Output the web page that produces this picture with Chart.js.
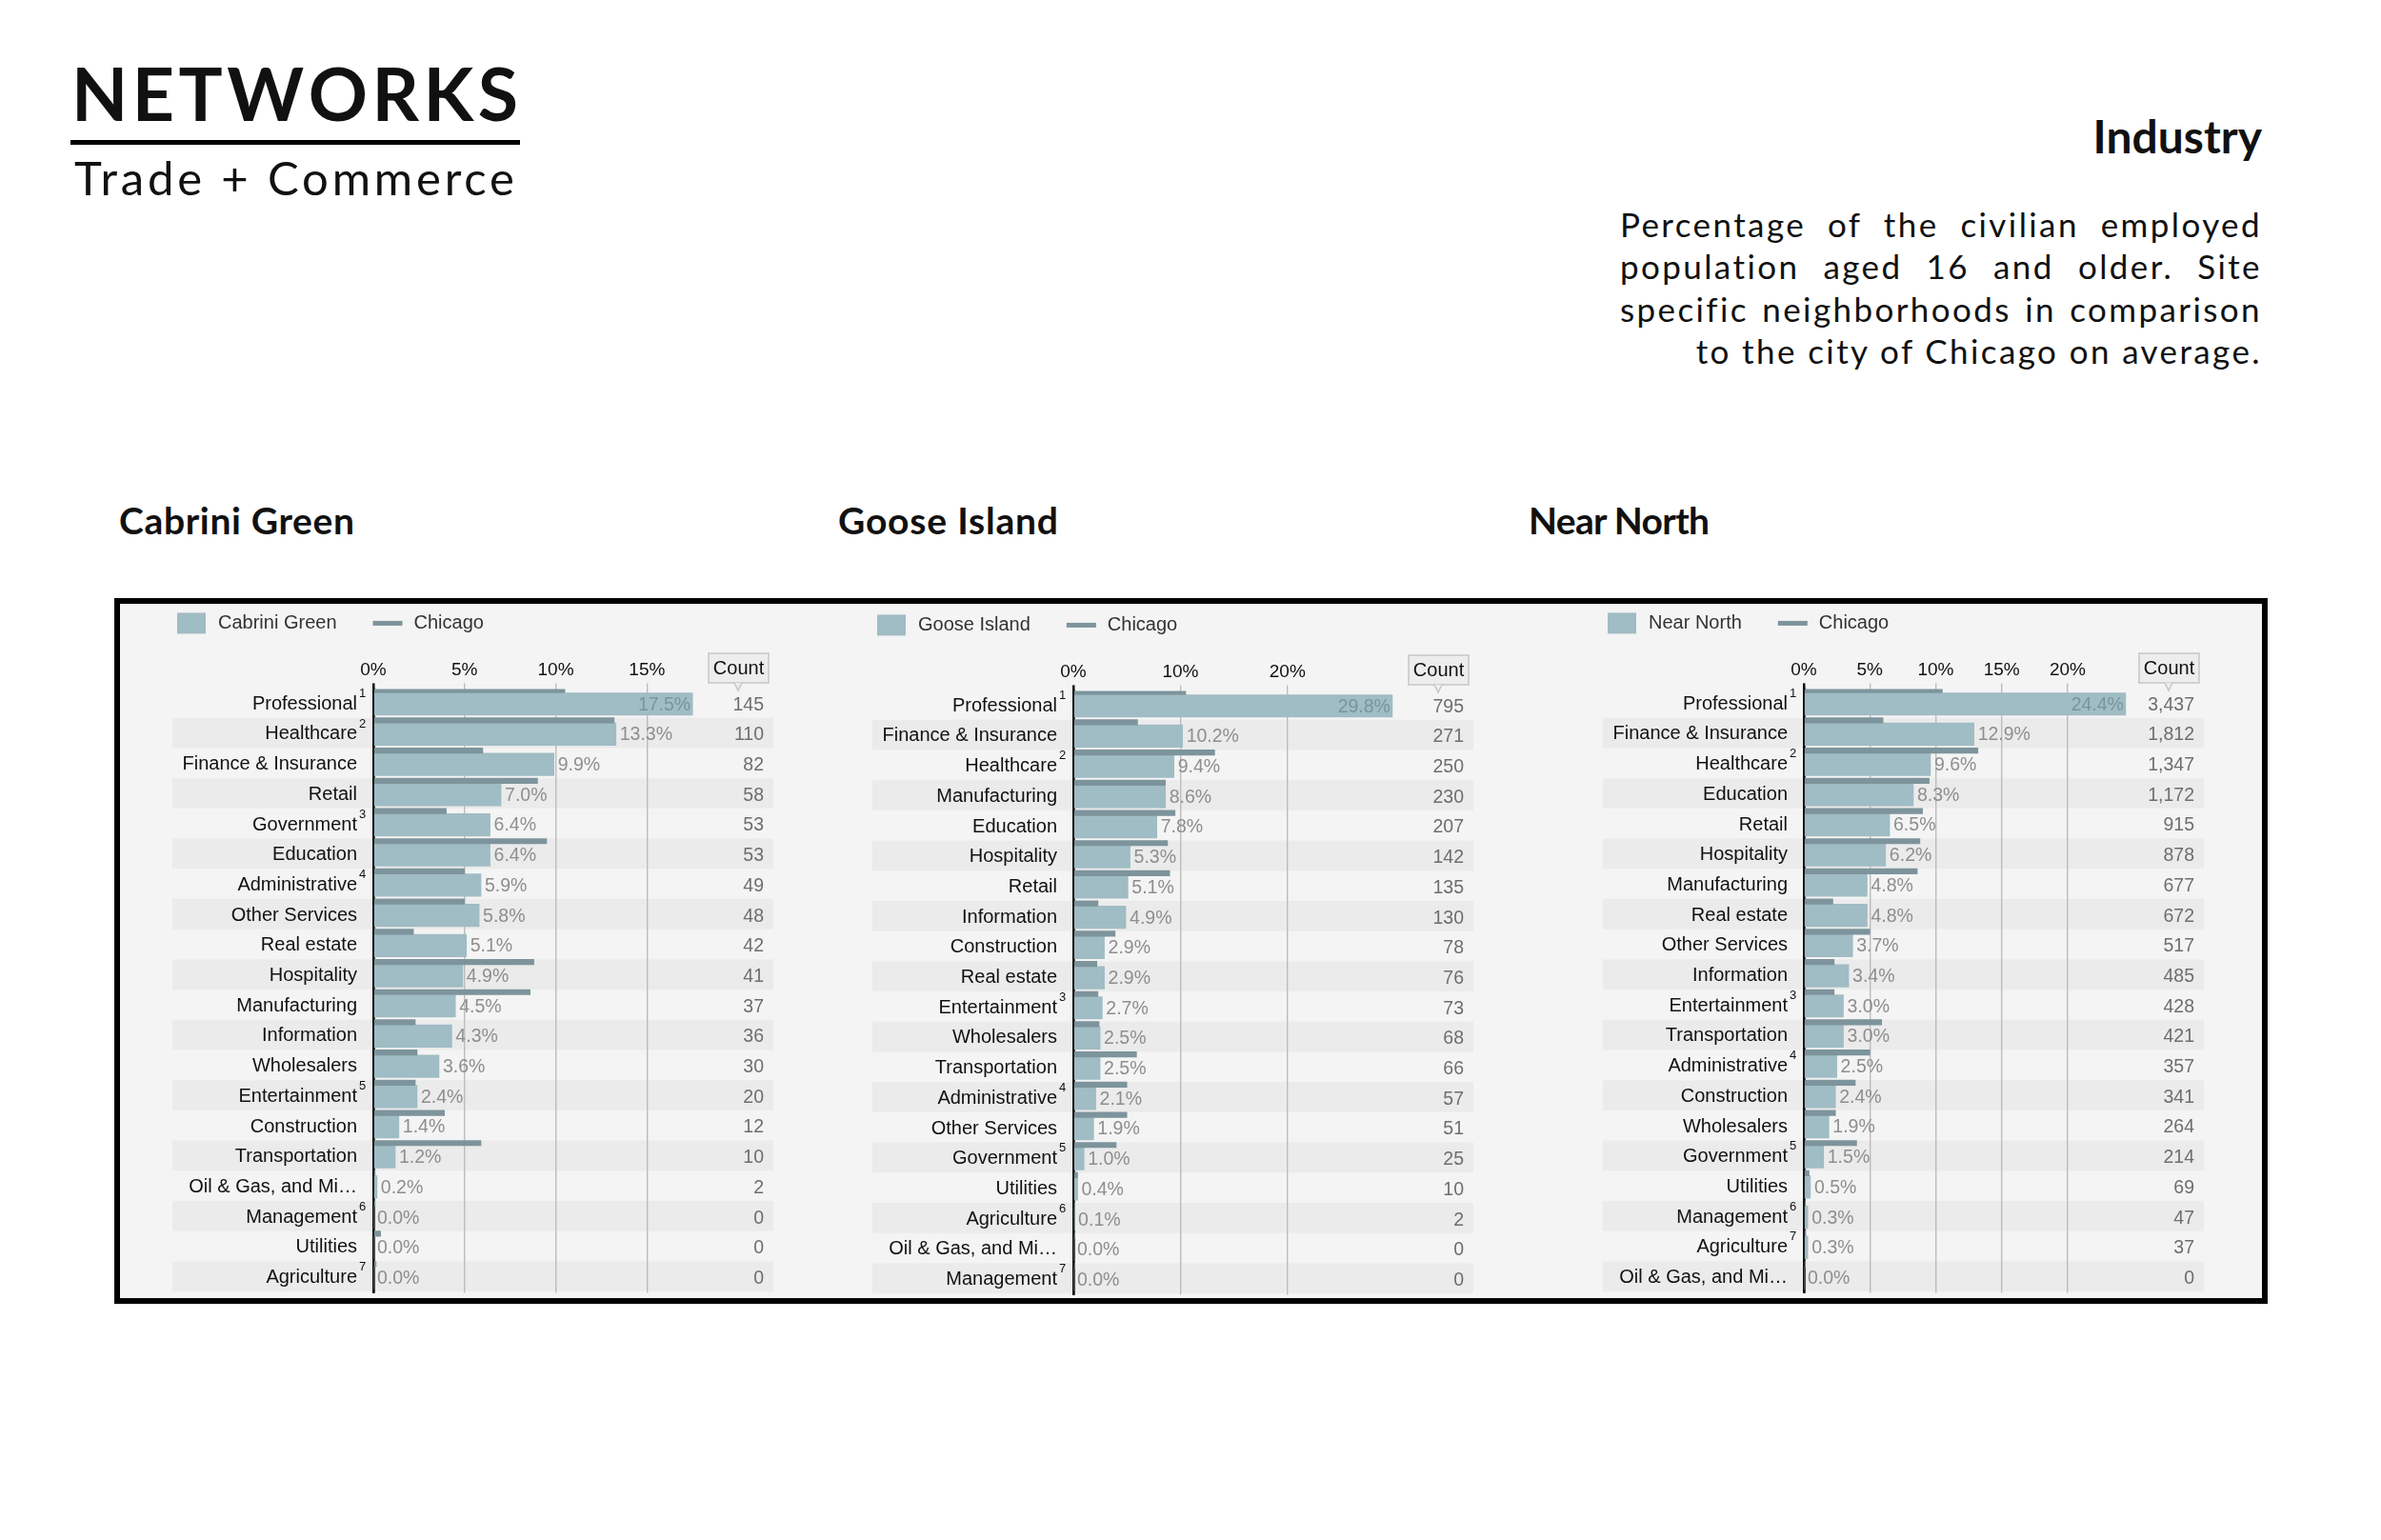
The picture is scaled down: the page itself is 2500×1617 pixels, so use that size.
<!DOCTYPE html>
<html>
<head>
<meta charset="utf-8">
<script src="https://cdn.jsdelivr.net/npm/chart.js@4.4.0/dist/chart.umd.min.js"></script>
<style>
    html, body { margin: 0; padding: 0; background: #fff; }
    body { width: 2500px; height: 1617px; position: relative; overflow: hidden; font-family: Lato, "Open Sans", sans-serif; color: #111; }
    .abs { position: absolute; white-space: nowrap; line-height: 1; }
    #brand { left: 75px; top: 59px; width: 469px; display: flex; justify-content: space-between; font-size: 77px; font-weight: 700; }
    #rule { left: 74px; top: 147px; width: 472px; height: 4.5px; background: #000; }
    #sub { left: 78px; top: 162px; font-size: 49px; font-weight: 400; }
    #title { right: 125px; top: 119px; font-size: 48px; font-weight: 700; }
    #para { position: absolute; left: 1701px; top: 213px; width: 674px; font-size: 35px; line-height: 44.3px; }
    #para div { text-align: justify; text-align-last: justify; white-space: nowrap; }
    #para div.last { text-align: right; text-align-last: right; }
    .head { top: 527px; font-size: 39px; font-weight: 700; }
    #frame { position: absolute; left: 120px; top: 628px; width: 2261px; height: 741px; box-sizing: border-box; border: 6px solid #000; background: #f4f4f4; }
    canvas { position: absolute; }
</style>
</head>
<body>
<div id="brand" class="abs"><span>N</span><span>E</span><span>T</span><span>W</span><span>O</span><span>R</span><span>K</span><span>S</span></div>
<div id="rule" class="abs"></div>
<div id="sub" class="abs">Trade + Commerce</div>
<div id="title" class="abs">Industry</div>
<div id="para">
    <div>Percentage of the civilian employed</div>
    <div>population aged 16 and older. Site</div>
    <div id="fitline">specific neighborhoods in comparison</div>
    <div class="last">to the city of Chicago on average.</div>
</div>
<div class="abs head" id="h1" style="left:125px">Cabrini Green</div>
<div class="abs head" id="h2" style="left:880px">Goose Island</div>
<div class="abs head" id="h3" style="left:1605px">Near North</div>
<div id="frame"></div>
<canvas id="cabriniChart" width="655" height="725" style="left:167px; top:637px"></canvas>
<canvas id="gooseChart" width="655" height="725" style="left:902px; top:639px"></canvas>
<canvas id="nearNorthChart" width="655" height="725" style="left:1669px; top:637px"></canvas>
<script>
// Chicago average share (%) per industry
const chicagoIndustries = ['Professional', 'Healthcare', 'Finance & Insurance', 'Retail', 'Government', 'Education',
    'Administrative', 'Other Services', 'Real estate', 'Hospitality', 'Manufacturing', 'Information', 'Wholesalers',
    'Entertainment', 'Construction', 'Transportation', 'Oil & Gas, and Mi…', 'Management', 'Utilities', 'Agriculture'];
const chicagoShares = [10.5, 13.2, 6.0, 9.0, 4.0, 9.5, 5.0, 5.0, 2.2, 8.8, 8.6, 2.3, 2.4, 2.3, 3.9, 5.9, 0.1, 0.1, 0.4, 0.15];

// Cabrini Green
const cabriniLabels = ['Professional', 'Healthcare', 'Finance & Insurance', 'Retail', 'Government', 'Education',
    'Administrative', 'Other Services', 'Real estate', 'Hospitality', 'Manufacturing', 'Information', 'Wholesalers',
    'Entertainment', 'Construction', 'Transportation', 'Oil & Gas, and Mi…', 'Management', 'Utilities', 'Agriculture'];
const cabriniNotes = ['1', '2', '', '', '3', '', '4', '', '', '', '', '', '', '5', '', '', '', '6', '', '7'];
const cabriniShares = [17.5, 13.3, 9.9, 7.0, 6.4, 6.4, 5.9, 5.8, 5.1, 4.9, 4.5, 4.3, 3.6, 2.4, 1.4, 1.2, 0.2, 0.0, 0.0, 0.0];
const cabriniCounts = [145, 110, 82, 58, 53, 53, 49, 48, 42, 41, 37, 36, 30, 20, 12, 10, 2, 0, 0, 0];

// Goose Island
const gooseLabels = ['Professional', 'Finance & Insurance', 'Healthcare', 'Manufacturing', 'Education', 'Hospitality',
    'Retail', 'Information', 'Construction', 'Real estate', 'Entertainment', 'Wholesalers', 'Transportation',
    'Administrative', 'Other Services', 'Government', 'Utilities', 'Agriculture', 'Oil & Gas, and Mi…', 'Management'];
const gooseNotes = ['1', '', '2', '', '', '', '', '', '', '', '3', '', '', '4', '', '5', '', '6', '', '7'];
const gooseShares = [29.8, 10.2, 9.4, 8.6, 7.8, 5.3, 5.1, 4.9, 2.9, 2.9, 2.7, 2.5, 2.5, 2.1, 1.9, 1.0, 0.4, 0.1, 0.0, 0.0];
const gooseCounts = [795, 271, 250, 230, 207, 142, 135, 130, 78, 76, 73, 68, 66, 57, 51, 25, 10, 2, 0, 0];

// Near North
const nearNorthLabels = ['Professional', 'Finance & Insurance', 'Healthcare', 'Education', 'Retail', 'Hospitality',
    'Manufacturing', 'Real estate', 'Other Services', 'Information', 'Entertainment', 'Transportation',
    'Administrative', 'Construction', 'Wholesalers', 'Government', 'Utilities', 'Management', 'Agriculture',
    'Oil & Gas, and Mi…'];
const nearNorthNotes = ['1', '', '2', '', '', '', '', '', '', '', '3', '', '4', '', '', '5', '', '6', '7', ''];
const nearNorthShares = [24.4, 12.9, 9.6, 8.3, 6.5, 6.2, 4.8, 4.8, 3.7, 3.4, 3.0, 3.0, 2.5, 2.4, 1.9, 1.5, 0.5, 0.3, 0.3, 0.0];
const nearNorthCounts = [3437, 1812, 1347, 1172, 915, 878, 677, 672, 517, 485, 428, 421, 357, 341, 264, 214, 69, 47, 37, 0];

const LIGHT = '#a0bcc4';
const DARK = '#7d949c';
const BAND = '#ebebeb';
const FONT = '"Liberation Sans", Arial, sans-serif';

// Draws row bands, legend, value labels, footnote marks and the count column
const panelDecor = {
    id: 'panelDecor',
    beforeDraw(chart) {
        const { ctx, chartArea: a, scales: { y } } = chart;
        const pitch = y.getPixelForValue(1) - y.getPixelForValue(0);
        ctx.save();
        ctx.fillStyle = BAND;
        chart.data.labels.forEach((label, i) => {
            if (i % 2 === 1) {
                ctx.fillRect(a.left - 211, y.getPixelForValue(i) - 17.2, 631, pitch);
            }
        });
        ctx.restore();
    },
    afterDraw(chart) {
        const { ctx, chartArea: a, scales: { x, y } } = chart;
        const opts = chart.options.plugins.panelDecor;
        const sets = chart.data.datasets;
        ctx.save();
        ctx.textBaseline = 'middle';

        // legend
        const ly = a.top - 69;
        let lx = a.left - 206;
        ctx.font = '20px ' + FONT;
        ctx.fillStyle = LIGHT;
        ctx.fillRect(lx, ly - 11, 30, 22);
        ctx.fillStyle = '#333';
        ctx.fillText(sets[1].label, lx + 43, ly);
        lx += 43 + ctx.measureText(sets[1].label).width + 38;
        ctx.fillStyle = DARK;
        ctx.fillRect(lx, ly - 2.5, 31, 5);
        ctx.fillStyle = '#333';
        ctx.fillText(sets[0].label, lx + 43, ly);

        // count header
        const bx = a.left + 352, by = a.top - 37.4, bw = 63, bh = 31;
        ctx.fillStyle = '#ededed';
        ctx.strokeStyle = '#c6c6c6';
        ctx.lineWidth = 1.5;
        ctx.fillRect(bx, by, bw, bh);
        ctx.strokeRect(bx, by, bw, bh);
        ctx.beginPath();
        ctx.moveTo(bx + 27, by + bh);
        ctx.lineTo(bx + 31, by + bh + 8);
        ctx.lineTo(bx + 35, by + bh);
        ctx.fill();
        ctx.stroke();
        ctx.fillStyle = '#111';
        ctx.textAlign = 'center';
        ctx.fillText('Count', bx + bw / 2, by + bh / 2 + 1);

        ctx.font = '19.5px ' + FONT;
        sets[1].data.forEach((v, i) => {
            const p = y.getPixelForValue(i);
            // count
            ctx.textAlign = 'right';
            ctx.fillStyle = '#6e6e6e';
            ctx.fillText(opts.counts[i].toLocaleString('en-US'), a.left + 410, p + 1);
            // share label
            const txt = v.toFixed(1) + '%';
            const end = x.getPixelForValue(v);
            const w = ctx.measureText(txt).width;
            if (end + 4 + w > a.right) {
                ctx.fillStyle = '#7a949c';
                ctx.fillText(txt, end - 2, p + 1);
            } else {
                ctx.textAlign = 'left';
                ctx.fillStyle = '#8e8e8e';
                ctx.fillText(txt, end + 4, p + 1);
            }
        });

        // footnote marks
        ctx.font = '13px ' + FONT;
        ctx.fillStyle = '#111';
        ctx.textAlign = 'left';
        opts.notes.forEach((n, i) => {
            if (n) ctx.fillText(n, a.left - 15, y.getPixelForValue(i) - 11);
        });
        ctx.restore();
    }
};

function makePanel(canvasId, name, labels, notes, shares, counts, xMax, step) {
    const chicago = labels.map(l => chicagoShares[chicagoIndustries.indexOf(l)]);
    return new Chart(document.getElementById(canvasId), {
        type: 'bar',
        data: {
            labels: labels,
            datasets: [
                { label: 'Chicago', data: chicago, backgroundColor: DARK, barThickness: 14.5, maxBarThickness: 5.5 },
                { label: name, data: shares, backgroundColor: LIGHT, barThickness: 23.5 },
                { label: '', data: [], barThickness: 23.5 }
            ]
        },
        options: {
            indexAxis: 'y',
            responsive: false,
            animation: false,
            devicePixelRatio: 1,
            layout: { padding: { top: 56.4, bottom: 4.6, left: 0, right: 90 } },
            plugins: {
                legend: { display: false },
                tooltip: { enabled: false },
                panelDecor: { notes: notes, counts: counts }
            },
            scales: {
                x: {
                    position: 'top',
                    min: 0,
                    max: xMax,
                    // no tick crammed against the count column
                    afterBuildTicks: s => {
                        s.ticks = s.ticks.filter(t => t.value <= xMax - step / 2);
                    },
                    afterFit: s => { s.height = 30; },
                    ticks: {
                        stepSize: step,
                        includeBounds: false,
                        autoSkip: false,
                        maxRotation: 0,
                        padding: 2,
                        color: '#111',
                        font: { family: FONT, size: 19 },
                        callback: v => v + '%'
                    },
                    grid: {
                        color: c => (c.tick && c.tick.value === 0 ? '#111' : '#bcbcbc'),
                        lineWidth: c => (c.tick && c.tick.value === 0 ? 2.5 : 1.4),
                        tickLength: 6
                    },
                    border: { display: false }
                },
                y: {
                    z: 1,
                    afterFit: s => {
                        s.width = 225;
                        s.paddingTop = 0;
                        s.paddingBottom = 0;
                    },
                    grid: { display: false, drawTicks: false },
                    border: { display: true, color: '#111', width: 2.5 },
                    ticks: { padding: 17, color: '#111', font: { family: FONT, size: 20 } }
                }
            }
        },
        plugins: [panelDecor]
    });
}

makePanel('cabriniChart', 'Cabrini Green', cabriniLabels, cabriniNotes, cabriniShares, cabriniCounts, 17.75, 5);
makePanel('gooseChart', 'Goose Island', gooseLabels, gooseNotes, gooseShares, gooseCounts, 30.25, 10);
makePanel('nearNorthChart', 'Near North', nearNorthLabels, nearNorthNotes, nearNorthShares, nearNorthCounts, 24.55, 5);

// stretch letter spacing of the display type to the widths in the layout
function fitSpacing(el, target) {
    el.style.letterSpacing = '0px';
    const w = el.getBoundingClientRect().width;
    const n = el.textContent.length;
    el.style.letterSpacing = ((target - w) / (n - 1)) + 'px';
}
fitSpacing(document.getElementById('sub'), 462);
fitSpacing(document.getElementById('h1'), 247);
fitSpacing(document.getElementById('h2'), 231);
fitSpacing(document.getElementById('h3'), 190);
const fit = document.getElementById('fitline');
const probe = document.createElement('span');
probe.textContent = fit.textContent;
probe.style.cssText = 'position:absolute;white-space:nowrap;font-size:35px;visibility:hidden';
document.body.appendChild(probe);
const ls = (674 - probe.getBoundingClientRect().width) / probe.textContent.length;
probe.remove();
document.getElementById('para').style.letterSpacing = Math.max(0, ls * 0.9) + 'px';
</script>
</body>
</html>
